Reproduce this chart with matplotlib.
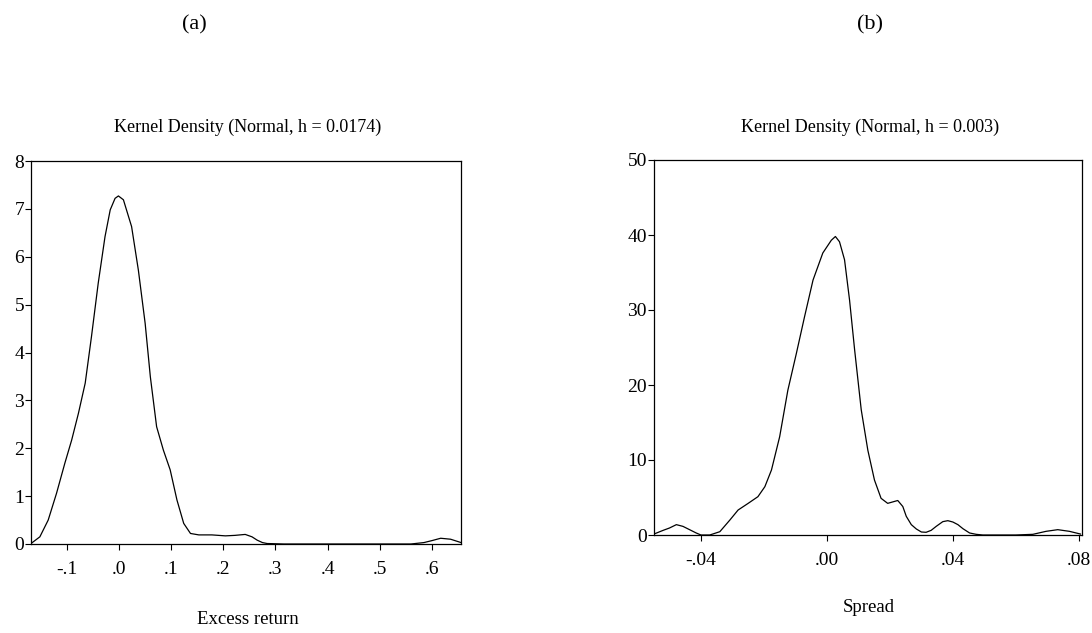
import matplotlib
matplotlib.use("Agg")
import matplotlib.pyplot as plt

plt.rcParams['font.family'] = ['Liberation Serif', 'DejaVu Serif']

# Panel (a): Excess return kernel density
ret_x = [-0.169, -0.152, -0.136, -0.120, -0.104, -0.091, -0.078, -0.065, -0.053,
         -0.040, -0.027, -0.017, -0.0077, -0.0013, 0.0083, 0.024, 0.037, 0.050,
         0.060, 0.072, 0.085, 0.098, 0.111, 0.124, 0.137, 0.153, 0.178, 0.204,
         0.222, 0.242, 0.255, 0.265, 0.275, 0.284, 0.316, 0.560, 0.585, 0.600,
         0.617, 0.636, 0.656]
ret_y = [0.01, 0.15, 0.50, 1.06, 1.69, 2.17, 2.73, 3.36, 4.33,
         5.45, 6.42, 6.98, 7.22, 7.27, 7.19, 6.63, 5.72, 4.61,
         3.49, 2.45, 1.96, 1.55, 0.92, 0.43, 0.22, 0.19, 0.19, 0.17,
         0.18, 0.20, 0.15, 0.08, 0.03, 0.01, 0.0, 0.0, 0.03, 0.07,
         0.12, 0.10, 0.03]
ret_xticks = [-0.1, 0.0, 0.1, 0.2, 0.3, 0.4, 0.5, 0.6]
ret_xticklabels = ['-.1', '.0', '.1', '.2', '.3', '.4', '.5', '.6']
ret_yticks = [0, 1, 2, 3, 4, 5, 6, 7, 8]

# Panel (b): Spread kernel density
spr_x = [-0.0549, -0.0520, -0.0500, -0.0478, -0.0457, -0.0436, -0.0415, -0.0400,
         -0.0372, -0.0340, -0.0308, -0.0282, -0.0250, -0.0219, -0.0197, -0.0176,
         -0.0150, -0.0124, -0.0097, -0.0071, -0.0044, -0.0013, 0.0014, 0.0027,
         0.0040, 0.0056, 0.0072, 0.0088, 0.0109, 0.0130, 0.0151, 0.0172, 0.0193,
         0.0225, 0.0241, 0.0252, 0.0268, 0.0284, 0.0300, 0.0315, 0.0331, 0.0347,
         0.0368, 0.0384, 0.0400, 0.0416, 0.0432, 0.0453, 0.0474, 0.0495, 0.0600,
         0.0654, 0.0696, 0.0733, 0.0770, 0.0805]
spr_y = [0.13, 0.62, 0.93, 1.38, 1.15, 0.71, 0.27, 0.0,
         0.0, 0.44, 2.0, 3.33, 4.22, 5.11, 6.44, 8.67,
         13.1, 19.3, 24.2, 29.1, 34.0, 37.6, 39.3, 39.8,
         39.1, 36.7, 31.3, 24.7, 16.7, 11.3, 7.33, 4.89, 4.22,
         4.6, 3.8, 2.49, 1.38, 0.8, 0.4, 0.36, 0.62, 1.15,
         1.78, 1.91, 1.73, 1.38, 0.84, 0.27, 0.09, 0.0, 0.0,
         0.09, 0.49, 0.71, 0.49, 0.13]
spr_xticks = [-0.04, 0.0, 0.04, 0.08]
spr_xticklabels = ['-.04', '.00', '.04', '.08']
spr_yticks = [0, 10, 20, 30, 40, 50]

W, H = 1092, 633
fig = plt.figure(figsize=(W / 100, H / 100), dpi=100)


def box(l, t, r, b):
    return [l / W, 1 - b / H, (r - l) / W, (b - t) / H]


ax1 = fig.add_axes(box(31, 161, 461, 544))
ax2 = fig.add_axes(box(654, 160, 1082, 535))

for ax, xs, ys, xlim, ylim, xt, xtl, yt in [
    (ax1, ret_x, ret_y, (-0.169, 0.656), (0, 8), ret_xticks, ret_xticklabels,
     ret_yticks),
    (ax2, spr_x, spr_y, (-0.0549, 0.081), (0, 50), spr_xticks, spr_xticklabels,
     spr_yticks),
]:
    ax.plot(xs, ys, color='black', lw=0.9, solid_joinstyle='round')
    ax.set_xlim(*xlim)
    ax.set_ylim(*ylim)
    ax.set_xticks(xt)
    ax.set_xticklabels(xtl)
    ax.set_yticks(yt)
    ax.tick_params(axis='x', direction='out', length=4, width=0.8, pad=8,
                   labelsize=14)
    ax.tick_params(axis='y', direction='out', length=4, width=0.8, pad=1,
                   labelsize=14)
    for s in ax.spines.values():
        s.set_linewidth(0.9)

fig.text(248 / W, 1 - 127 / H, 'Kernel Density (Normal, h = 0.0174)',
         ha='center', va='center', fontsize=13)
fig.text(870 / W, 1 - 127 / H, 'Kernel Density (Normal, h = 0.003)',
         ha='center', va='center', fontsize=13)
fig.text(248 / W, 1 - 620 / H, 'Excess return', ha='center', va='center',
         fontsize=13.5)
fig.text(869 / W, 1 - 608 / H, 'Spread', ha='center', va='center',
         fontsize=13.5)
fig.text(194 / W, 1 - 25 / H, '(a)', ha='center', va='center', fontsize=16)
fig.text(870 / W, 1 - 25 / H, '(b)', ha='center', va='center', fontsize=16)

fig.savefig('out.png', dpi=100)
